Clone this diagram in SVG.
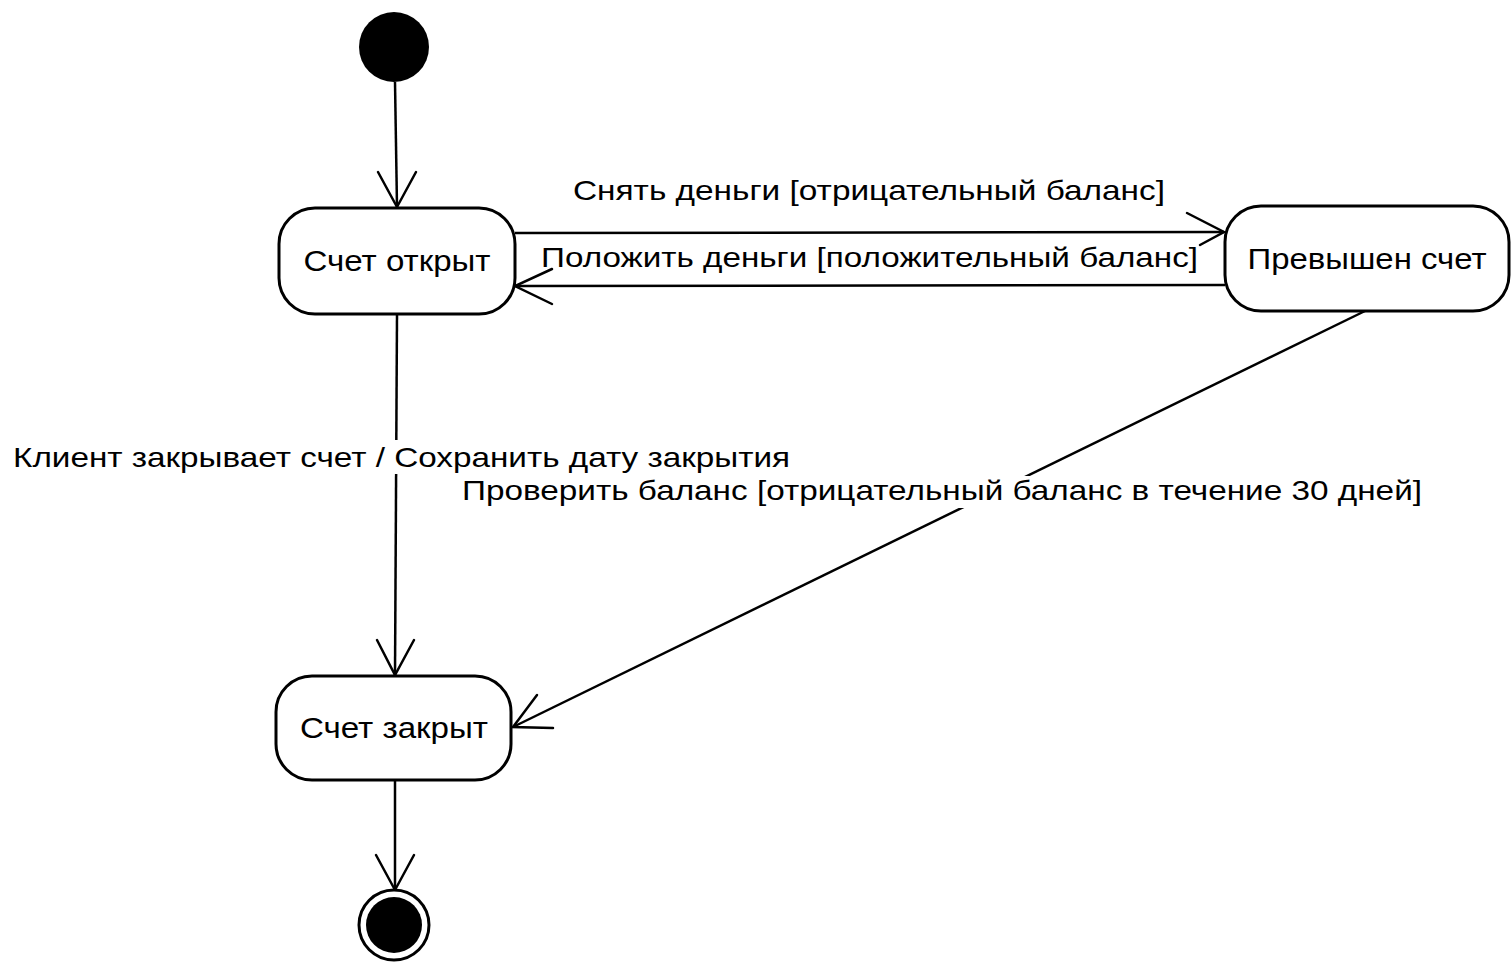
<svg xmlns="http://www.w3.org/2000/svg" width="1511" height="964" viewBox="0 0 1511 964">
<defs>
<style>
.node{fill:#fff;stroke:#000;stroke-width:3}
.t{font-family:"Liberation Sans",Arial,sans-serif;font-size:28px;fill:#000}
.nt{font-family:"Liberation Sans",Arial,sans-serif;font-size:29px;fill:#000;text-anchor:middle}
.edge{fill:none;stroke:#000;stroke-width:2.5}
.head{fill:none;stroke:#000;stroke-width:2.5;stroke-linecap:round;stroke-linejoin:miter}
.bg{fill:#fff;stroke:none}
</style>
</defs>
<rect width="1511" height="964" fill="#fff"/>
<g id="connectors">
<path class="edge" d="M395,82 L397,207"/>
<path class="head" d="M378,172 L397,207 L416,172"/>
<path class="edge" d="M515,233 L1224,232"/>
<path class="head" d="M1187,213 L1224,232 L1200,245"/>
<path class="edge" d="M1225,285 L515,286"/>
<path class="head" d="M552,269 L515,286 L552,304"/>
<path class="edge" d="M397,315 L395,675"/>
<path class="head" d="M377,640 L395,675 L414,640"/>
<path class="edge" d="M1365,311 L513,727"/>
<path class="head" d="M537,695 L513,727 L553,728"/>
<path class="edge" d="M395,780 L395,890"/>
<path class="head" d="M376,855 L395,890 L414,855"/>
<text class="t" x="573" y="200" textLength="592" lengthAdjust="spacingAndGlyphs">Снять деньги [отрицательный баланс]</text>
<text class="t" x="541" y="267" textLength="657" lengthAdjust="spacingAndGlyphs">Положить деньги [положительный баланс]</text>
<rect class="bg" x="10" y="440" width="784" height="34"/>
<text class="t" x="13" y="467" textLength="777" lengthAdjust="spacingAndGlyphs">Клиент закрывает счет / Сохранить дату закрытия</text>
<rect class="bg" x="458" y="476" width="968" height="32"/>
<text class="t" x="462" y="500" textLength="960" lengthAdjust="spacingAndGlyphs">Проверить баланс [отрицательный баланс в течение 30 дней]</text>
</g>
<g id="initial">
<circle cx="394" cy="47" r="35" fill="#000"/>
</g>
<g id="open">
<rect class="node" x="279" y="208" width="236" height="106" rx="36"/>
<text class="nt" x="397" y="271" textLength="187" lengthAdjust="spacingAndGlyphs">Счет открыт</text>
</g>
<g id="overdrawn">
<rect class="node" x="1225" y="206" width="284" height="105" rx="36"/>
<text class="nt" x="1367" y="269" textLength="239" lengthAdjust="spacingAndGlyphs">Превышен счет</text>
</g>
<g id="closed">
<rect class="node" x="276" y="676" width="235" height="104" rx="36"/>
<text class="nt" x="394" y="738" textLength="188" lengthAdjust="spacingAndGlyphs">Счет закрыт</text>
</g>
<g id="final">
<circle cx="394" cy="925" r="35" fill="#fff" stroke="#000" stroke-width="3"/>
<circle cx="394" cy="925" r="28" fill="#000"/>
</g>
</svg>
